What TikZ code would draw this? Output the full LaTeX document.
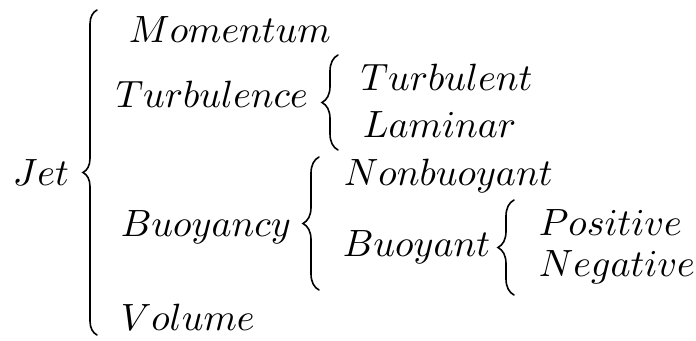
\documentclass[tikz,border=0pt]{standalone}
\usetikzlibrary{decorations.pathreplacing}
\begin{document}
\begin{tikzpicture}[x=1pt,y=-1pt,
  lbl/.style={anchor=base west,inner sep=0pt,scale=3.8},
  bracestyle/.style={decorate,decoration={brace,amplitude=#1},line width=1.6pt,line cap=round},
  bracestyle/.default=15pt]
\useasboundingbox (0,0) rectangle (696,340);
\node[lbl] (jet) at (12,185) {$Jet$};
\node[lbl] (mom) at (128,42) {$Momentum$};
\node[lbl] (turb) at (115,107) {$Turbulence$};
\node[lbl] (turbt) at (360,90) {$Turbulent$};
\node[lbl] (lam) at (362,137) {$Laminar$};
\node[lbl] (nonb) at (343,185) {$Nonbuoyant$};
\node[lbl] (buoy) at (120,236) {$Buoyancy$};
\node[lbl] (buoyt) at (342,256) {$Buoyant$};
\node[lbl] (pos) at (538,235) {$Positive$};
\node[lbl] (neg) at (538,276) {$Negative$};
\node[lbl] (vol) at (120,330) {$Volume$};
\coordinate (b1t) at (97,10);
\coordinate (b1b) at (97,335);
\coordinate (b2t) at (338,55);
\coordinate (b2b) at (338,150);
\coordinate (b3t) at (319,157);
\coordinate (b3b) at (319,290);
\coordinate (b4t) at (514,200);
\coordinate (b4b) at (514,295);
\draw[bracestyle=14pt] (b1b) -- (b1t);
\draw[bracestyle=16pt] (b2b) -- (b2t);
\draw[bracestyle=16pt] (b3b) -- (b3t);
\draw[bracestyle=16pt] (b4b) -- (b4t);
\end{tikzpicture}
\end{document}
